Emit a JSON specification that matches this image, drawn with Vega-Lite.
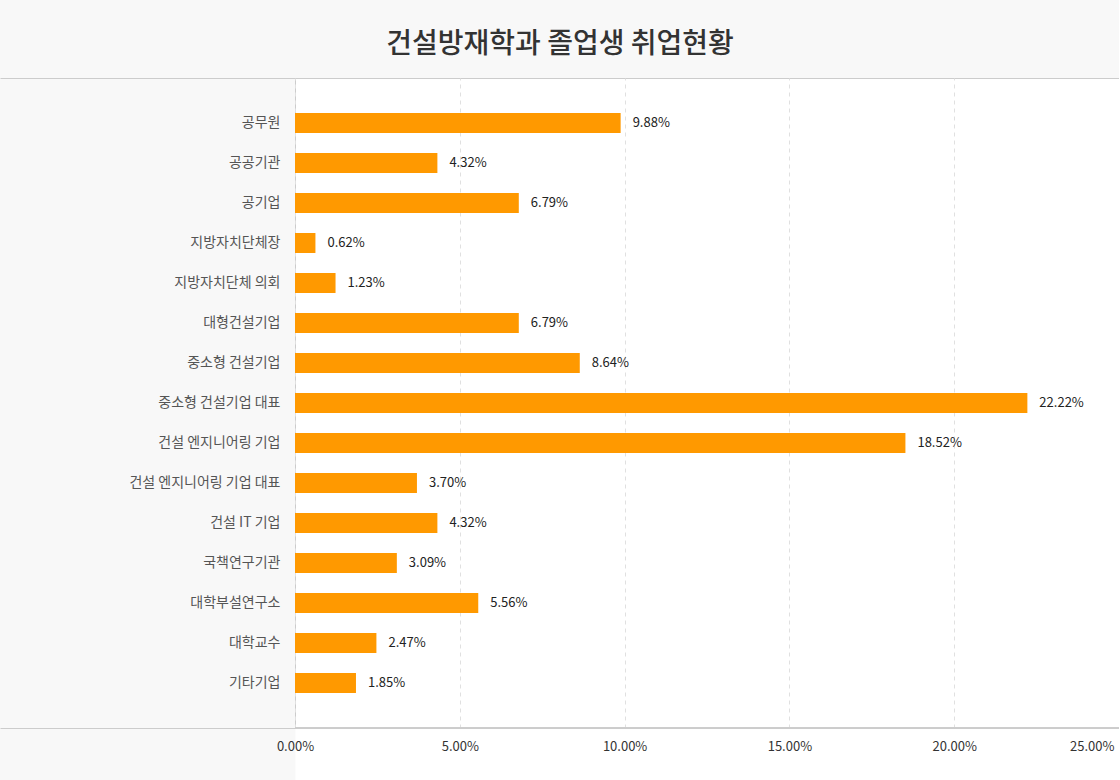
{
  "$schema": "https://vega.github.io/schema/vega-lite/v6.json",
  "width": 824,
  "height": 650,
  "autosize": {"type": "none"},
  "padding": {"left": 295, "top": 78, "right": 0, "bottom": 52},
  "background": "#f8f8f8",
  "config": {
    "view": {"fill": "#ffffff", "stroke": "#cccccc", "strokeWidth": 1},
    "font": "Noto Sans CJK KR"
  },
  "title": {
    "text": "건설방재학과 졸업생 취업현황",
    "fontSize": 28,
    "fontWeight": 500,
    "color": "#333333",
    "anchor": "middle",
    "frame": "group",
    "dx": -147,
    "offset": 19
  },
  "data": {
    "values": [
      {"category": "공무원", "value": 0.0988},
      {"category": "공공기관", "value": 0.0432},
      {"category": "공기업", "value": 0.0679},
      {"category": "지방자치단체장", "value": 0.0062},
      {"category": "지방자치단체 의회", "value": 0.0123},
      {"category": "대형건설기업", "value": 0.0679},
      {"category": "중소형 건설기업", "value": 0.0864},
      {"category": "중소형 건설기업 대표", "value": 0.2222},
      {"category": "건설 엔지니어링 기업", "value": 0.1852},
      {"category": "건설 엔지니어링 기업 대표", "value": 0.0370},
      {"category": "건설 IT 기업", "value": 0.0432},
      {"category": "국책연구기관", "value": 0.0309},
      {"category": "대학부설연구소", "value": 0.0556},
      {"category": "대학교수", "value": 0.0247},
      {"category": "기타기업", "value": 0.0185}
    ]
  },
  "resolve": {"scale": {"y": "independent"}, "axis": {"y": "independent"}},
  "layer": [
    {
      "resolve": {"scale": {"x": "independent"}, "axis": {"x": "independent"}},
      "layer": [
        {
          "mark": {"type": "bar", "color": "#ff9900"},
          "encoding": {
            "y": {
              "field": "category",
              "type": "nominal",
              "sort": null,
              "scale": {"paddingInner": 0.5, "paddingOuter": 0.875},
              "axis": {
                "title": null,
                "ticks": false,
                "domain": false,
                "labelFontSize": 14,
                "labelColor": "#555555",
                "labelPadding": 15,
                "labelLimit": 300
              }
            },
            "x": {
              "field": "value",
              "type": "quantitative",
              "scale": {"domain": [0, 0.25], "nice": false},
              "axis": {
                "orient": "bottom",
                "title": null,
                "values": [0, 0.05, 0.1, 0.15, 0.2, 0.25],
                "grid": true,
                "gridDash": [4, 4],
                "gridColor": "#e0e0e0",
                "ticks": false,
                "labels": false,
                "domain": true,
                "domainColor": "#ffffff",
                "domainWidth": 51,
                "offset": 26,
                "zindex": 0
              }
            }
          }
        },
        {
          "mark": {"type": "text", "align": "left", "baseline": "middle", "dx": 12, "fontSize": 13, "fontWeight": 400, "color": "#222222"},
          "encoding": {
            "y": {"field": "category", "type": "nominal", "sort": null},
            "x": {
              "field": "value",
              "type": "quantitative",
              "scale": {"domain": [0, 0.25], "nice": false},
              "axis": {
                "orient": "bottom",
                "title": null,
                "format": ".2%",
                "values": [0, 0.05, 0.1, 0.15, 0.2, 0.25],
                "grid": false,
                "ticks": false,
                "domain": false,
                "zindex": 1,
                "labelBaseline": "middle",
                "labelPadding": 18,
                "labelFontSize": 13,
                "labelColor": "#333333",
                "labelAlign": {"condition": {"test": "datum.value == 0.25", "value": "right"}, "value": "center"},
                "labelOffset": {"condition": {"test": "datum.value == 0.25", "value": -5}, "value": 0}
              }
            },
            "text": {"field": "value", "type": "quantitative", "format": ".2%"}
          }
        }
      ]
    },
    {
      "mark": {"type": "rule", "color": "#cccccc", "strokeWidth": 1},
      "encoding": {
        "y": {
          "datum": 0,
          "type": "quantitative",
          "scale": {"domain": [0, 1], "nice": false},
          "axis": {
            "orient": "left",
            "values": [0, 1],
            "tickSize": 295,
            "tickColor": "#cccccc",
            "labels": false,
            "domain": false,
            "grid": false,
            "title": null
          }
        }
      }
    }
  ]
}
